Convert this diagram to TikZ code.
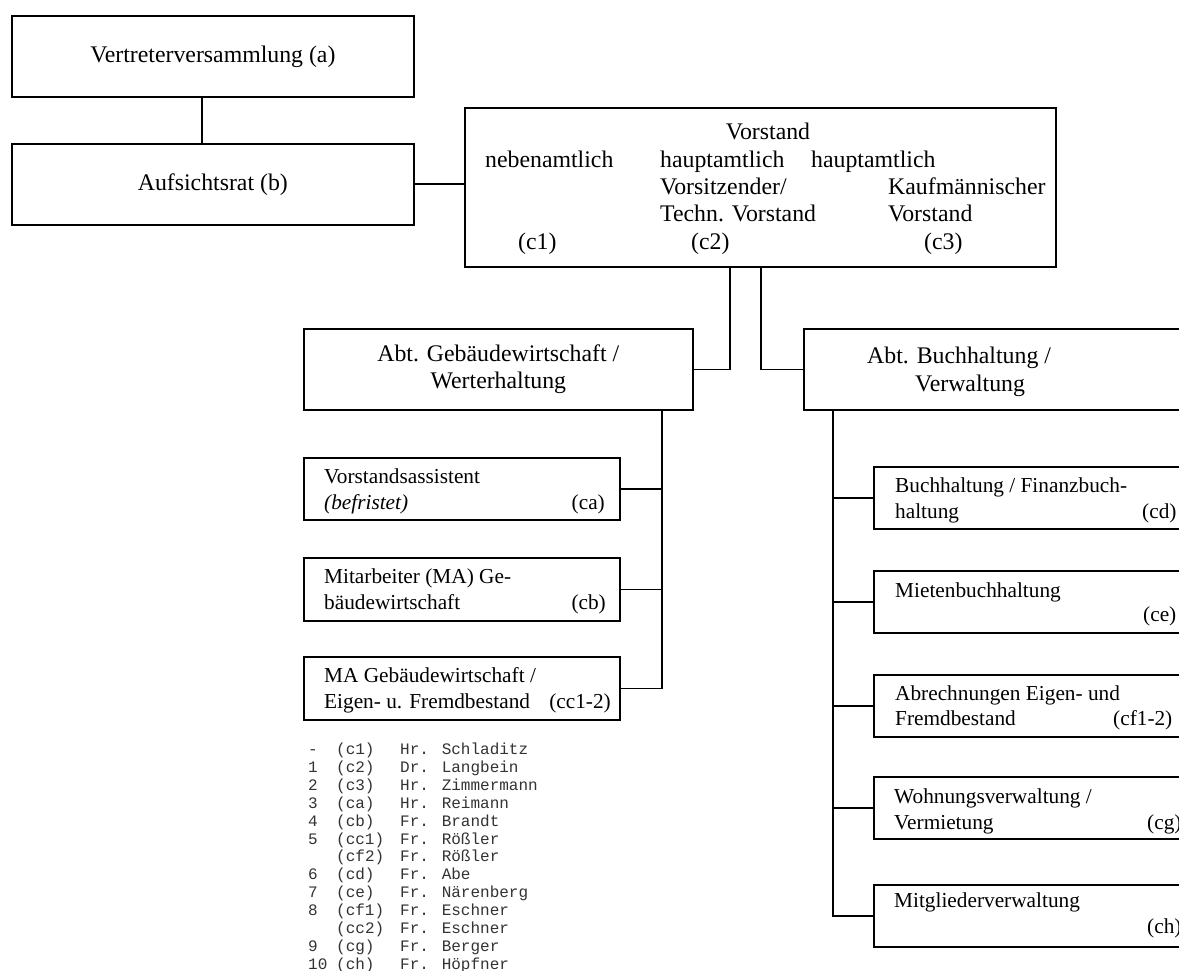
\documentclass[tikz,border=0pt]{standalone}
\usepackage{fontspec}
\setmainfont{Liberation Serif}
\newfontfamily\legfont{Liberation Mono}
\begin{document}
\begin{tikzpicture}[x=1pt,y=-1pt,
  box/.style={draw, line width=1.7pt, rectangle, inner sep=0pt, anchor=north west},
  big/.style={font=\fontsize{23.8}{27.4}\selectfont, inner sep=0pt},
  small/.style={font=\fontsize{21.3}{24.5}\selectfont, inner sep=0pt, anchor=base west},
  smallr/.style={font=\fontsize{21.3}{24.5}\selectfont, inner sep=0pt, anchor=base east},
  leg/.style={font=\legfont\fontsize{16}{18}\selectfont, inner sep=0pt, anchor=base west, text=black!80},
  conn/.style={line width=1.7pt}]
\useasboundingbox (0,0) rectangle (1179,971);
\clip (0,0) rectangle (1179,971);
\fill[white] (0,0) rectangle (1179,971);

% top boxes
\node[box, big, minimum width=402pt, minimum height=81pt] (va) at (11,15) {Vertreterversammlung (a)};
\node[box, big, minimum width=402pt, minimum height=81pt] (ar) at (11,143) {Aufsichtsrat (b)};

% Vorstand
\node[box, minimum width=591pt, minimum height=159pt] (vs) at (464,107) {};
\node[big, anchor=base] (vst) at (768,140) {Vorstand};
\node[big, anchor=base west] (v1a) at (485,167.5) {nebenamtlich};
\node[big, anchor=base west] (v2a) at (660,167.5) {hauptamtlich};
\node[big, anchor=base west] (v3a) at (811,167.5) {hauptamtlich};
\node[big, anchor=base west] (v2b) at (660,195) {Vorsitzender/};
\node[big, anchor=base west] (v3b) at (888,195) {Kaufmännischer};
\node[big, anchor=base west] (v2c) at (660,222) {Techn. Vorstand};
\node[big, anchor=base west] (v3c) at (888,222) {Vorstand};
\node[big, anchor=base west] (tc1) at (518,249.5) {(c1)};
\node[big, anchor=base west] (tc2) at (691,249.5) {(c2)};
\node[big, anchor=base west] (tc3) at (924,249.5) {(c3)};

% departments
\node[box, big, align=center, minimum width=389pt, minimum height=81pt] (gw) at (303,328) {Abt. Gebäudewirtschaft /\\Werterhaltung};
\node[box, minimum width=450pt, minimum height=81pt] (bh) at (803,328) {};
\node[big, anchor=base west] (bh1) at (867,363) {Abt. Buchhaltung /};
\node[big, anchor=base west] (bh2) at (915,391) {Verwaltung};

% left sub boxes
\node[box, minimum width=316pt, minimum height=62pt] (ca) at (303,457) {};
\node[small] (ca1) at (324,483) {Vorstandsassistent};
\node[small] (ca2) at (324,509) {\textit{(befristet)}};
\node[smallr] (cat) at (605,509) {(ca)};
\node[box, minimum width=316pt, minimum height=63pt] (cb) at (303,557) {};
\node[small] (cb1) at (324,583) {Mitarbeiter (MA) Ge-};
\node[small] (cb2) at (324,609) {bäudewirtschaft};
\node[smallr] (cbt) at (606,609) {(cb)};
\node[box, minimum width=316pt, minimum height=63pt] (cc) at (303,656) {};
\node[small] (cc1) at (324,682) {MA Gebäudewirtschaft /};
\node[small] (cc2) at (324,708) {Eigen- u. Fremdbestand};
\node[smallr] (cct) at (611,708) {(cc1-2)};

% right sub boxes
\node[box, minimum width=400pt, minimum height=62pt] (cd) at (873,466) {};
\node[small] (cd1) at (895,492) {Buchhaltung / Finanzbuch-};
\node[small] (cd2) at (895,518) {haltung};
\node[small] (cdt) at (1142,518) {(cd)};
\node[box, minimum width=400pt, minimum height=62pt] (ce) at (873,570) {};
\node[small] (ce1) at (895,597) {Mietenbuchhaltung};
\node[small] (cet) at (1143,621) {(ce)};
\node[box, minimum width=400pt, minimum height=62pt] (cf) at (873,674) {};
\node[small] (cf1) at (895,700) {Abrechnungen Eigen- und};
\node[small] (cf2) at (895,725) {Fremdbestand};
\node[small] (cft) at (1113,725) {(cf1-2)};
\node[box, minimum width=400pt, minimum height=62pt] (cg) at (873,776) {};
\node[small] (cg1) at (894,803) {Wohnungsverwaltung /};
\node[small] (cg2) at (894,829) {Vermietung};
\node[small] (cgt) at (1147,829) {(cg)};
\node[box, minimum width=400pt, minimum height=62pt] (ch) at (873,884) {};
\node[small] (ch1) at (894,907) {Mitgliederverwaltung};
\node[small] (cht) at (1147,933) {(ch)};

% connectors
\draw[conn] ([xshift=-11pt]va.south) -- ([xshift=-11pt]ar.north);
\draw[conn] (ar.east) -- (ar.east -| vs.west);
\coordinate (vl) at ([xshift=266pt]vs.south west);
\coordinate (vr) at ([xshift=297pt]vs.south west);
\draw[conn] (vl) |- (gw.east);
\draw[conn] (vr) |- (bh.west);
\coordinate (gv) at ([xshift=359pt]gw.south west);
\draw[conn] (gv) |- (cc.east);
\draw[conn] (ca.east) -- (ca.east -| gv);
\draw[conn] (cb.east) -- (cb.east -| gv);
\coordinate (hv) at ([xshift=30pt]bh.south west);
\draw[conn] (hv) |- (ch.west);
\draw[conn] (cd.west -| hv) -- (cd.west);
\draw[conn] (ce.west -| hv) -- (ce.west);
\draw[conn] (cf.west -| hv) -- (cf.west);
\draw[conn] (cg.west -| hv) -- (cg.west);

% legend
\foreach \n/\a/\b [count=\i] in {-/(c1)/Hr. Schladitz, 1/(c2)/Dr. Langbein, 2/(c3)/Hr. Zimmermann, 3/(ca)/Hr. Reimann, 4/(cb)/Fr. Brandt, 5/(cc1)/Fr. Rößler, {}/(cf2)/Fr. Rößler, 6/(cd)/Fr. Abe, 7/(ce)/Fr. Närenberg, 8/(cf1)/Fr. Eschner, {}/(cc2)/Fr. Eschner, 9/(cg)/Fr. Berger, 10/(ch)/Fr. Höpfner}
  \node[leg] (leg\i) at (308,{754.5+17.9*(\i-1)}) {\makebox[28pt][l]{\n}\makebox[64pt][l]{\a}\b};
\end{tikzpicture}
\end{document}
